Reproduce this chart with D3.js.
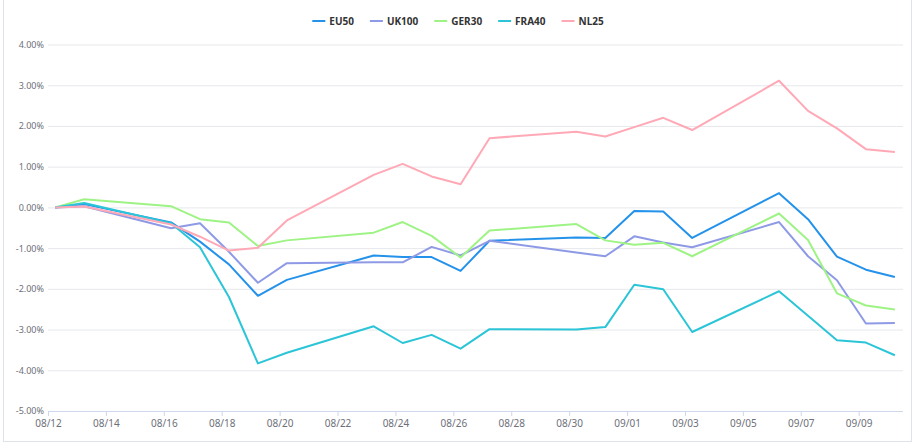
<!DOCTYPE html>
<html>
<head>
<meta charset="utf-8">
<script src="https://cdn.jsdelivr.net/npm/d3@7"></script>
<style>
  html, body { margin: 0; padding: 0; background: #fff; }
  svg { display: block; }
  text { font-family: "Noto Sans", "Open Sans", sans-serif; }
</style>
</head>
<body>
<svg id="chart" width="916" height="446"></svg>
<script>
// ---- data ----
const dates = ["2021-08-12","2021-08-13","2021-08-16","2021-08-17","2021-08-18","2021-08-19","2021-08-20",
  "2021-08-23","2021-08-24","2021-08-25","2021-08-26","2021-08-27","2021-08-30","2021-08-31",
  "2021-09-01","2021-09-02","2021-09-03","2021-09-06","2021-09-07","2021-09-08","2021-09-09","2021-09-10"];
const seriesNames = ["EU50", "UK100", "GER30", "FRA40", "NL25"];
const EU50  = [0, 0.08, -0.37, -0.84, -1.40, -2.17, -1.78, -1.18, -1.22, -1.22, -1.56, -0.82, -0.74, -0.75, -0.09, -0.10, -0.75, 0.35, -0.29, -1.21, -1.53, -1.71];
const UK100 = [0, 0.03, -0.51, -0.39, -1.09, -1.85, -1.37, -1.35, -1.35, -0.97, -1.18, -0.82, -1.11, -1.20, -0.71, -0.86, -0.98, -0.36, -1.20, -1.79, -2.85, -2.84];
const GER30 = [0, 0.20, 0.03, -0.29, -0.37, -0.95, -0.81, -0.62, -0.36, -0.70, -1.23, -0.57, -0.41, -0.81, -0.92, -0.87, -1.20, -0.15, -0.80, -2.11, -2.41, -2.51];
const FRA40 = [0, 0.11, -0.39, -0.98, -2.20, -3.83, -3.57, -2.92, -3.33, -3.13, -3.47, -2.99, -3.00, -2.94, -1.90, -2.01, -3.06, -2.06, -2.66, -3.26, -3.32, -3.63];
const NL25  = [0, 0.02, -0.42, -0.72, -1.06, -0.99, -0.32, 0.80, 1.07, 0.76, 0.57, 1.70, 1.86, 1.74, 1.97, 2.20, 1.90, 3.11, 2.37, 1.94, 1.43, 1.36];
const colors = ["#2492ea", "#8e9ae6", "#9ef385", "#2cc5d8", "#ffa8b6"];
const yTicks = [-5, -4, -3, -2, -1, 0, 1, 2, 3, 4];
const xTicks = ["2021-08-12","2021-08-14","2021-08-16","2021-08-18","2021-08-20","2021-08-22","2021-08-24",
  "2021-08-26","2021-08-28","2021-08-30","2021-09-01","2021-09-03","2021-09-05","2021-09-07","2021-09-09"];
const xDomain = ["2021-08-12 00:00", "2021-09-10 12:45"];
const pointTime = "06:00"; // points sit a quarter day after each date tick

// ---- layout ----
const svg = d3.select("#chart");
const plotL = 48, plotR = 903, plotT = 44.5, plotB = 411;
const parseDay = d3.timeParse("%Y-%m-%d");
const parseDT = d3.timeParse("%Y-%m-%d %H:%M");

const x = d3.scaleTime().domain(xDomain.map(parseDT)).range([plotL, plotR]);
const y = d3.scaleLinear().domain([-5, 4]).range([plotB, plotT]);

// outer frame
svg.append("rect").attr("x", 3.5).attr("y", -2).attr("width", 908).attr("height", 443.5)
  .attr("fill", "none").attr("stroke", "#dde3e8").attr("stroke-width", 1);

// y axis with grid
const yAxis = svg.append("g").attr("transform", `translate(${plotL},0)`)
  .call(d3.axisLeft(y).tickValues(yTicks).tickSize(-(plotR - plotL)).tickPadding(4)
    .tickFormat(d => d.toFixed(2) + "%"));
yAxis.select(".domain").remove();
yAxis.selectAll(".tick line").attr("stroke", "#e6e8ec").attr("stroke-width", 1);
yAxis.selectAll(".tick").filter(d => d === -5).select("line").remove();
yAxis.selectAll(".tick text").attr("fill", "#6e7079").style("font-size", "9px");

// x axis
const xAxis = svg.append("g").attr("transform", `translate(0,${plotB})`)
  .call(d3.axisBottom(x).tickValues(xTicks.map(parseDay)).tickSize(5).tickPadding(4)
    .tickFormat(d3.timeFormat("%m/%d")));
xAxis.select(".domain").attr("stroke", "#cfd7ea").attr("d", `M${plotL},0.5H${plotR}`);
xAxis.selectAll(".tick line").attr("stroke", "#cfd7ea");
xAxis.selectAll(".tick text").attr("fill", "#6e7079").style("font-size", "10px");

// lines
const values = [EU50, UK100, GER30, FRA40, NL25];
const ptDates = dates.map(d => parseDT(d + " " + pointTime));
const line = d3.line().x((d, i) => x(ptDates[i])).y(d => y(d));
values.forEach((vals, k) => {
  svg.append("path").datum(vals).attr("d", line)
    .attr("fill", "none").attr("stroke", colors[k]).attr("stroke-width", 2)
    .attr("stroke-linejoin", "round");
});

// legend
const legend = svg.append("g");
let cx = 0;
seriesNames.forEach((name, k) => {
  const g = legend.append("g").attr("transform", `translate(${cx},0)`);
  g.append("line").attr("x1", 0).attr("x2", 13).attr("y1", 0).attr("y2", 0)
    .attr("stroke", colors[k]).attr("stroke-width", 2);
  const t = g.append("text").attr("x", 17).attr("y", 0).attr("dy", "0.35em")
    .attr("fill", "#333").style("font-size", "10px").style("font-weight", "bold").text(name);
  const w = 17 + t.node().getComputedTextLength();
  cx += w + 16;
});
const totalW = cx - 16;
legend.attr("transform", `translate(${458 - totalW / 2},21)`);
</script>
</body>
</html>
